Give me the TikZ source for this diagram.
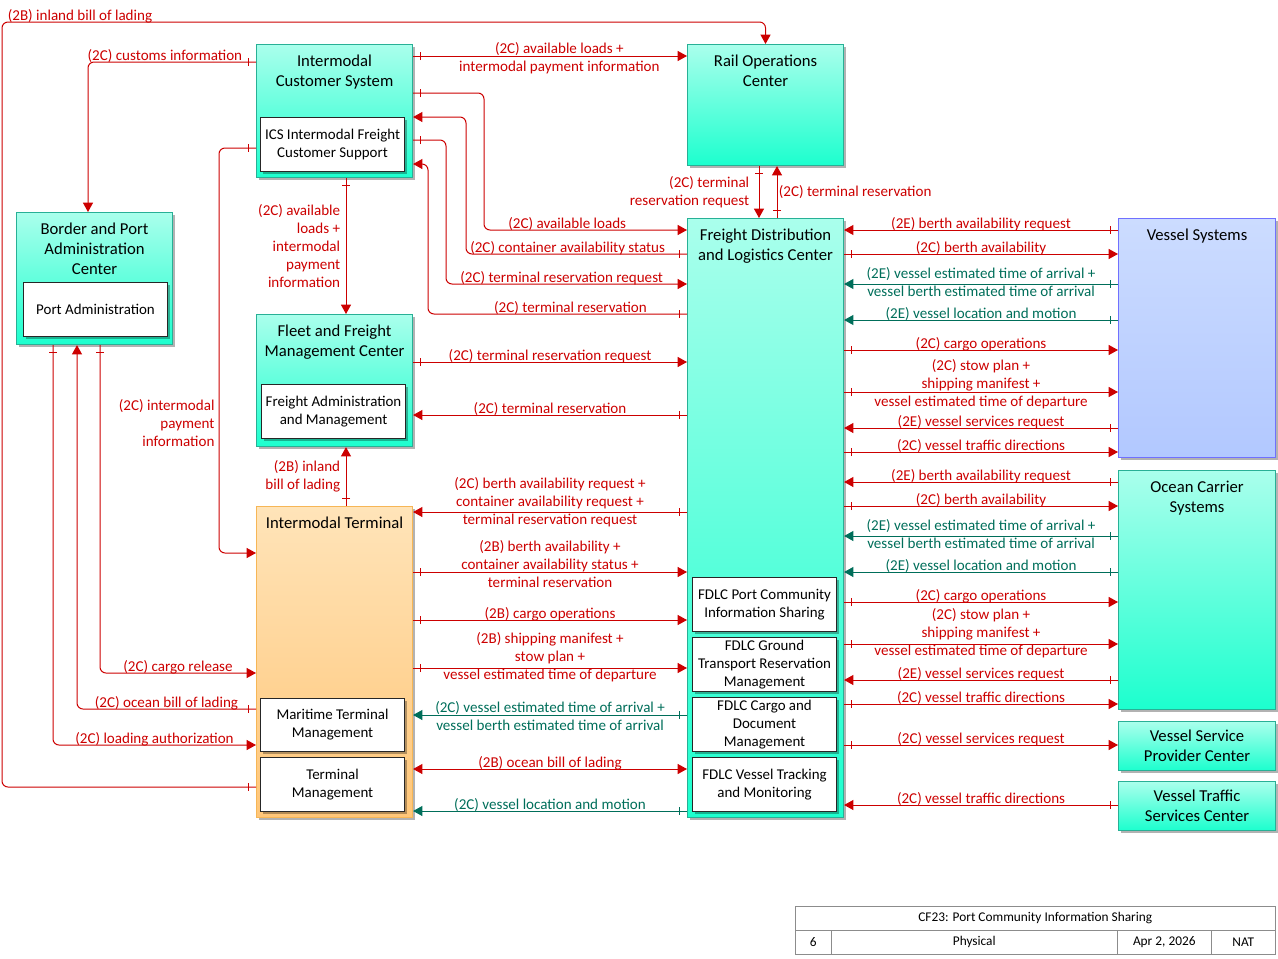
\documentclass[tikz,border=0pt]{standalone}
\usepackage{fontspec}
\setmainfont{Carlito}
\usetikzlibrary{arrows.meta,decorations.markings,shadows}

\definecolor{flowred}{RGB}{204,0,0}
\definecolor{flowteal}{RGB}{0,110,90}
\definecolor{tealtop}{RGB}{170,255,236}
\definecolor{tealbot}{RGB}{28,255,206}
\definecolor{tealline}{RGB}{40,176,150}
\definecolor{orangetop}{RGB}{255,228,185}
\definecolor{orangebot}{RGB}{255,198,120}
\definecolor{orangeline}{RGB}{246,182,86}
\definecolor{bluetop}{RGB}{204,220,255}
\definecolor{bluebot}{RGB}{178,200,255}
\definecolor{blueline}{RGB}{112,112,255}
\definecolor{tbline}{RGB}{140,140,140}

\newcommand\boxfont{\fontsize{12.5}{15}\selectfont}
\newcommand\objfont{\fontsize{11.2}{13.5}\selectfont}
\newcommand\flowfont{\fontsize{11.3}{13.5}\selectfont}
\newcommand\tbfont{\fontsize{10}{11}\selectfont}

\tikzset{
  sz/.style 2 args={minimum width=#1*0.75pt, minimum height=#2*0.75pt},
  sys/.style={draw=tealline, top color=tealtop, bottom color=tealbot,
    line width=0.8pt, anchor=north west, inner sep=0pt, align=center, font=\boxfont,
    drop shadow={shadow xshift=2pt, shadow yshift=-2pt, fill=black, opacity=0.3}},
  termsys/.style={sys, draw=orangeline, top color=orangetop, bottom color=orangebot},
  vslsys/.style={sys, draw=blueline, top color=bluetop, bottom color=bluebot},
  obj/.style={draw=black!85, fill=white, line width=0.8pt, anchor=north west,
    inner sep=0pt, align=center, font=\objfont,
    drop shadow={shadow xshift=1.5pt, shadow yshift=-1.5pt, fill=black, opacity=0.3}},
  boxtitle/.style={anchor=north, align=center, font=\boxfont, yshift=-4.5pt},
  flow/.style={color=flowred, line width=0.75pt, rounded corners=4.5pt,
    -{Triangle[length=7pt,width=7.5pt]}},
  tflow/.style={flow, color=flowteal},
  twoway/.style={{Triangle[length=7pt,width=7.5pt]}-{Triangle[length=7pt,width=7.5pt]}},
  srctick/.style={postaction={decorate, decoration={markings,
    mark=at position 5.5pt with {\draw[-, line width=0.6pt] (0,-3pt) -- (0,3pt);}}}},
  lab/.style={font=\flowfont, inner sep=1pt, align=center},
  ablab/.style={lab, above, yshift=-2pt},
  lflab/.style={lab, left, align=right, xshift=-3pt},
  tb/.style={draw=tbline, fill=white, anchor=north west, inner sep=0pt, font=\tbfont},
}

\begin{document}
\begin{tikzpicture}[x=0.75pt,y=-0.75pt]
\useasboundingbox (0,0) rectangle (1278,958);

% centers
\node[sys, sz={156}{133}, label={[boxtitle]north:Intermodal\\Customer System}] (ics) at (256,44) {};
\node[obj, sz={144}{54}] (icsf) at (260,117) {ICS Intermodal Freight\\Customer Support};
\node[sys, sz={156}{121}, label={[boxtitle]north:Rail Operations\\Center}] (roc) at (687,44) {};
\node[sys, sz={156}{132}, label={[boxtitle]north:Border and Port\\Administration\\Center}] (bpac) at (16,212) {};
\node[obj, sz={144}{54}] (pa) at (23,282) {Port Administration};
\node[sys, sz={156}{132}, label={[boxtitle]north:Fleet and Freight\\Management Center}] (ffmc) at (256,314) {};
\node[obj, sz={144}{54}] (fam) at (261,384) {Freight Administration\\and Management};
\node[termsys, sz={156}{311}, label={[boxtitle]north:Intermodal Terminal}] (it) at (256,506) {};
\node[obj, sz={144}{53}] (mtm) at (260,698) {Maritime Terminal\\Management};
\node[obj, sz={144}{54}] (tm) at (260,757) {Terminal\\Management};
\node[sys, sz={156}{599}, label={[boxtitle]north:Freight Distribution\\and Logistics Center}] (fdlc) at (687,218) {};
\node[obj, sz={144}{54}] (pcis) at (692,577) {FDLC Port Community\\Information Sharing};
\node[obj, sz={144}{54}] (gtrm) at (692,637) {FDLC Ground\\Transport Reservation\\Management};
\node[obj, sz={144}{54}] (cdm) at (692,697) {FDLC Cargo and\\Document\\Management};
\node[obj, sz={144}{54}] (vtm) at (692,757) {FDLC Vessel Tracking\\and Monitoring};
\node[vslsys, sz={157}{239}, label={[boxtitle]north:Vessel Systems}] (vs) at (1118,218) {};
\node[sys, sz={157}{239}, label={[boxtitle]north:Ocean Carrier\\Systems}] (ocs) at (1118,470) {};
\node[sys, sz={157}{49}] (vspc) at (1118,721) {Vessel Service\\Provider Center};
\node[sys, sz={157}{49}] (vtsc) at (1118,781) {Vessel Traffic\\Services Center};

% left side flows
\draw[flow,srctick] (it.west |- 0,787) -- (2,787) -- (2,22)
  -- node[lab, at start, anchor=south west, xshift=3pt, yshift=-2pt] {(2B) inland bill of lading} (roc.north |- 0,22) -- (roc.north);
\draw[flow,srctick] (ics.west |- 0,62)
  -- node[lab, at start, anchor=south east, xshift=-9pt, yshift=-2pt] {(2C) customs information} (88,62) -- (bpac.north -| 88,0);
\draw[flow,srctick] (ics.west |- 0,148) -- (219,148)
  -- node[lab, pos=0.68, anchor=east, xshift=-2pt] {(2C) intermodal\\\hfill payment\\\hfill information} (219,553) -- (it.west |- 0,553);
\draw[flow,srctick] (bpac.south -| 53,0) -- (53,745)
  -- node[ablab] {(2C) loading authorization} (it.west |- 0,745);
\draw[flow,srctick] (it.west |- 0,709)
  -- node[ablab] {(2C) ocean bill of lading} (77,709) -- (bpac.south -| 77,0);
\draw[flow,srctick] (bpac.south -| 100,0) -- (100,673)
  -- node[ablab] {(2C) cargo release} (it.west |- 0,673);
\path[flow]
  (ics.south -| 346,0) edge[srctick] node[lflab] {(2C) available\\loads +\\intermodal\\payment\\information} (ffmc.north -| 346,0)
  (it.north -| 346,0) edge[srctick] node[lflab] {(2B) inland\\bill of lading} (ffmc.south -| 346,0)
  (ics.east |- 0,56) edge[srctick] node[lab, xshift=7pt, yshift=-2pt] {(2C) available loads +\\intermodal payment information} (roc.west |- 0,56)
  (roc.south -| 759,0) edge[srctick] node[lflab, xshift=-3pt] {(2C) terminal\\reservation request} (fdlc.north -| 759,0)
  (fdlc.north -| 777,0) edge[srctick] node[lab, right] {(2C) terminal reservation} (roc.south -| 777,0);

% ICS - FDLC
\draw[flow,srctick] (ics.east |- 0,93) -- (484,93) -- (484,230)
  -- node[ablab, pos=0.41] {(2C) available loads} (fdlc.west |- 0,230);
\draw[flow,srctick] (fdlc.west |- 0,254)
  -- node[ablab, pos=0.54] {(2C) container availability status} (466,254) -- (466,117) -- (ics.east |- 0,117);
\draw[flow,srctick] (ics.east |- 0,140) -- (446,140) -- (446,284)
  -- node[ablab, pos=0.48] {(2C) terminal reservation request} (fdlc.west |- 0,284);
\draw[flow,srctick] (fdlc.west |- 0,314)
  -- node[ablab, pos=0.45] {(2C) terminal reservation} (428,314) -- (428,164) -- (ics.east |- 0,164);

% FFMC, IT - FDLC
\path[flow]
  (ffmc.east |- 0,362) edge[srctick] node[ablab] {(2C) terminal reservation request} (fdlc.west |- 0,362)
  (fdlc.west |- 0,415) edge[srctick] node[ablab] {(2C) terminal reservation} (ffmc.east |- 0,415)
  (fdlc.west |- 0,512) edge[srctick] node[lab, yshift=7.5pt] {(2C) berth availability request +\\container availability request +\\terminal reservation request} (it.east |- 0,512)
  (it.east |- 0,572) edge[srctick] node[lab, yshift=6pt] {(2B) berth availability +\\container availability status +\\terminal reservation} (fdlc.west |- 0,572)
  (it.east |- 0,620) edge[srctick] node[ablab] {(2B) cargo operations} (fdlc.west |- 0,620)
  (it.east |- 0,668) edge[srctick] node[lab, yshift=8.25pt] {(2B) shipping manifest +\\stow plan +\\vessel estimated time of departure} (fdlc.west |- 0,668)
  (fdlc.west |- 0,715) edge[srctick, tflow] node[lab, yshift=-0.75pt] {(2C) vessel estimated time of arrival +\\vessel berth estimated time of arrival} (it.east |- 0,715)
  (it.east |- 0,769) edge[twoway] node[ablab] {(2B) ocean bill of lading} (fdlc.west |- 0,769)
  (fdlc.west |- 0,811) edge[srctick, tflow] node[ablab] {(2C) vessel location and motion} (it.east |- 0,811);

% FDLC - vessel side
\path[flow]
  (vs.west |- 0,230) edge[srctick] node[ablab] {(2E) berth availability request} (fdlc.east |- 0,230)
  (fdlc.east |- 0,254) edge[srctick] node[ablab] {(2C) berth availability} (vs.west |- 0,254)
  (vs.west |- 0,284) edge[srctick, tflow] node[lab, yshift=1.5pt] {(2E) vessel estimated time of arrival +\\vessel berth estimated time of arrival} (fdlc.east |- 0,284)
  (vs.west |- 0,320) edge[srctick, tflow] node[ablab] {(2E) vessel location and motion} (fdlc.east |- 0,320)
  (fdlc.east |- 0,350) edge[srctick] node[ablab] {(2C) cargo operations} (vs.west |- 0,350)
  (fdlc.east |- 0,392) edge[srctick] node[lab, yshift=6pt] {(2C) stow plan +\\shipping manifest +\\vessel estimated time of departure} (vs.west |- 0,392)
  (vs.west |- 0,428) edge[srctick] node[ablab] {(2E) vessel services request} (fdlc.east |- 0,428)
  (fdlc.east |- 0,452) edge[srctick] node[ablab] {(2C) vessel traffic directions} (vs.west |- 0,452)
  (ocs.west |- 0,482) edge[srctick] node[ablab] {(2E) berth availability request} (fdlc.east |- 0,482)
  (fdlc.east |- 0,506) edge[srctick] node[ablab] {(2C) berth availability} (ocs.west |- 0,506)
  (ocs.west |- 0,536) edge[srctick, tflow] node[lab, yshift=1.5pt] {(2E) vessel estimated time of arrival +\\vessel berth estimated time of arrival} (fdlc.east |- 0,536)
  (ocs.west |- 0,572) edge[srctick, tflow] node[ablab] {(2E) vessel location and motion} (fdlc.east |- 0,572)
  (fdlc.east |- 0,602) edge[srctick] node[ablab] {(2C) cargo operations} (ocs.west |- 0,602)
  (fdlc.east |- 0,644) edge[srctick] node[lab, yshift=8.25pt] {(2C) stow plan +\\shipping manifest +\\vessel estimated time of departure} (ocs.west |- 0,644)
  (ocs.west |- 0,680) edge[srctick] node[ablab] {(2E) vessel services request} (fdlc.east |- 0,680)
  (fdlc.east |- 0,704) edge[srctick] node[ablab] {(2C) vessel traffic directions} (ocs.west |- 0,704)
  (fdlc.east |- 0,745) edge[srctick] node[ablab] {(2C) vessel services request} (vspc.west |- 0,745)
  (vtsc.west |- 0,805) edge[srctick] node[ablab] {(2C) vessel traffic directions} (fdlc.east |- 0,805);

% title block
\node[tb, sz={480}{24}] (tbname) at (795,906) {CF23: Port Community Information Sharing};
\node[tb, sz={36}{24}] (tbnum) at (795,930) {6};
\node[tb, sz={286}{24}] (tbview) at (831,930) {Physical};
\node[tb, sz={94}{24}] (tbdate) at (1117,930) {Apr 2, 2026};
\node[tb, sz={64}{24}] (tborg) at (1211,930) {NAT};
\end{tikzpicture}
\end{document}
